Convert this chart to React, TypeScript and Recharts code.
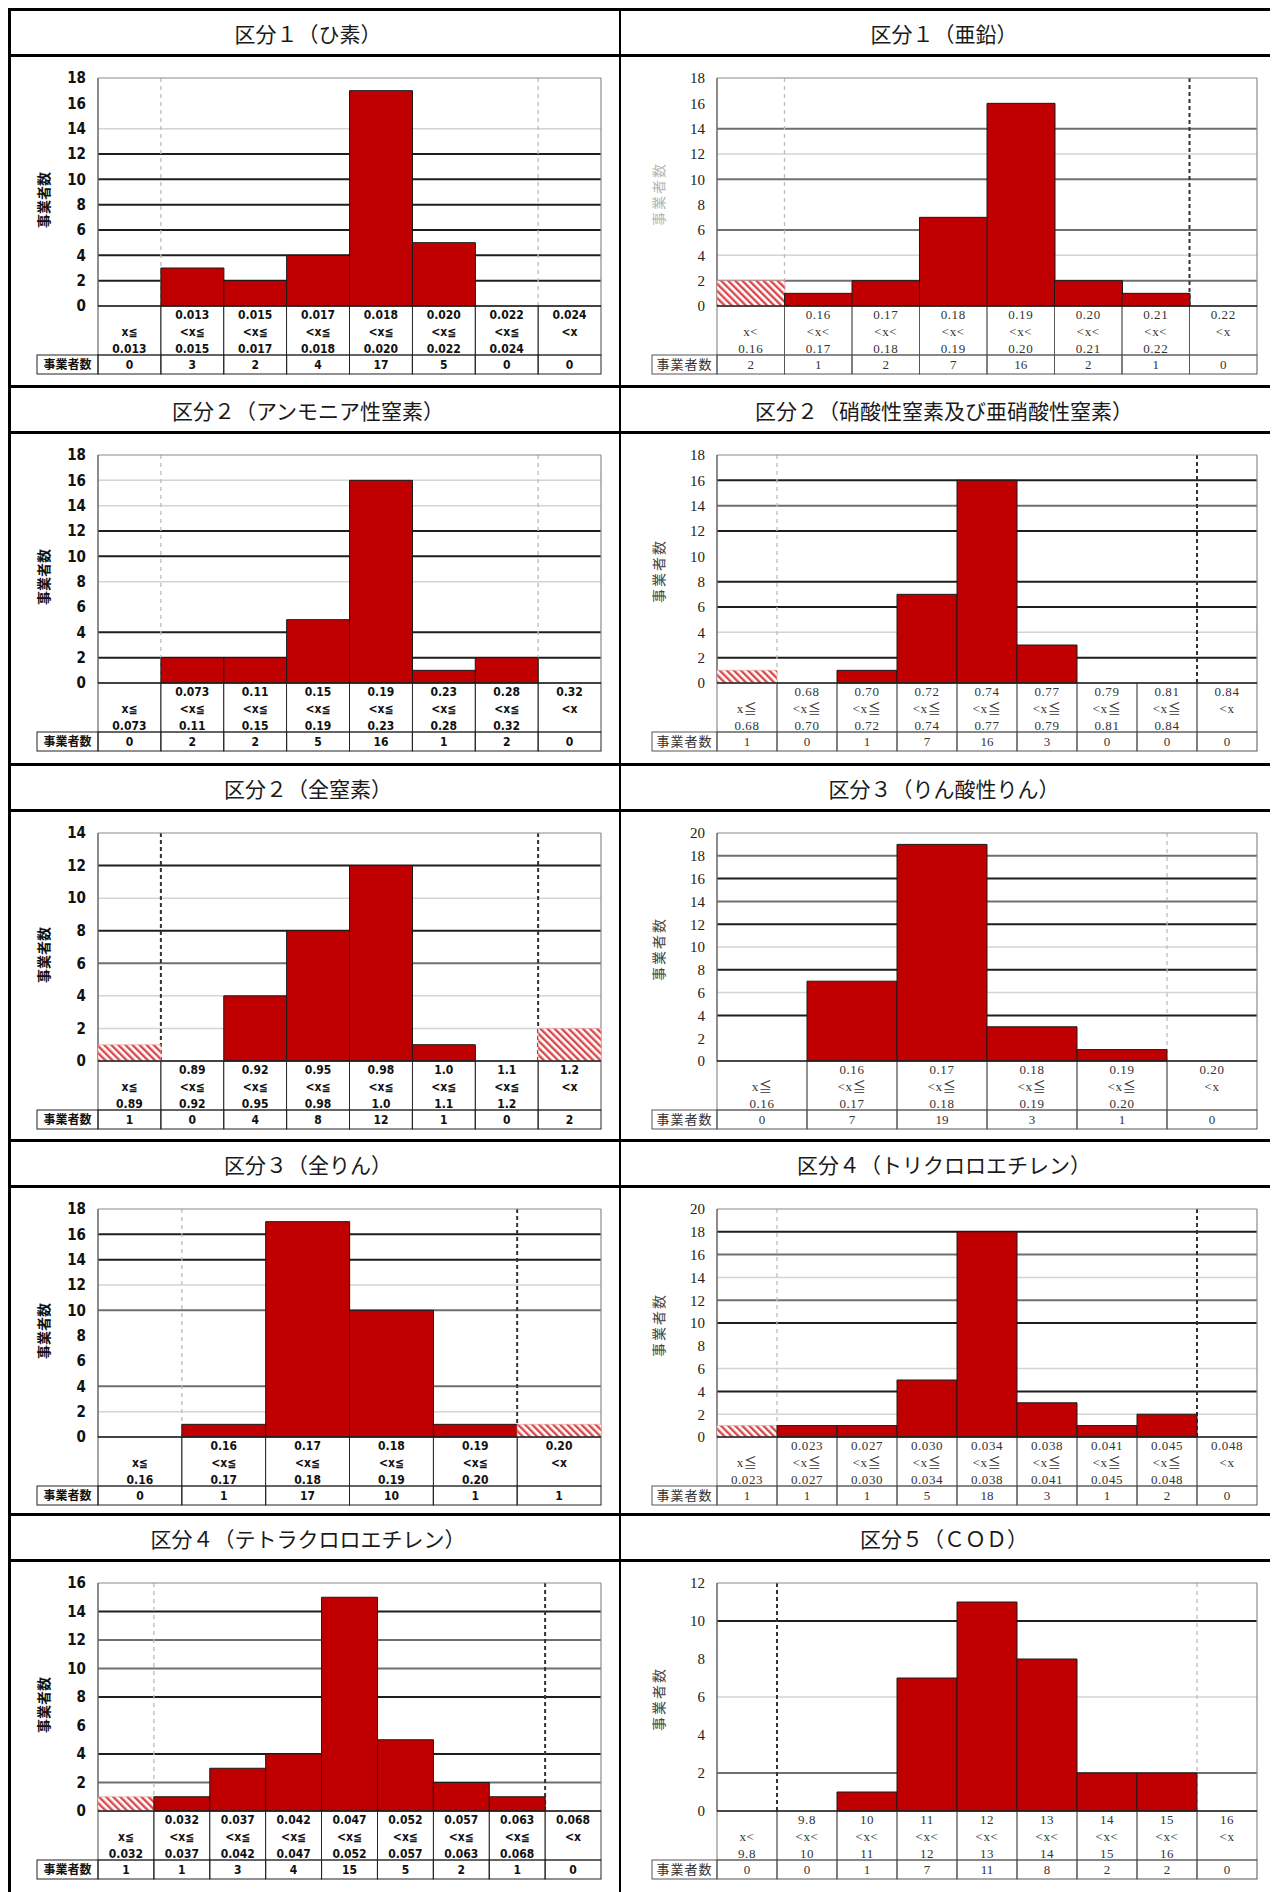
import React from "react";
import { BarChart, Bar, XAxis, YAxis, ReferenceLine, Cell } from "recharts";

// class bounds (upper limits of each bin) and counts of facilities per bin
const hisoBounds = ["0.013", "0.015", "0.017", "0.018", "0.020", "0.022", "0.024"];
const hisoCounts = [0, 3, 2, 4, 17, 5, 0, 0];

const aenBounds = ["0.16", "0.17", "0.18", "0.19", "0.20", "0.21", "0.22"];
const aenCounts = [2, 1, 2, 7, 16, 2, 1, 0];

const ammoniaBounds = ["0.073", "0.11", "0.15", "0.19", "0.23", "0.28", "0.32"];
const ammoniaCounts = [0, 2, 2, 5, 16, 1, 2, 0];

const nitrateBounds = ["0.68", "0.70", "0.72", "0.74", "0.77", "0.79", "0.81", "0.84"];
const nitrateCounts = [1, 0, 1, 7, 16, 3, 0, 0, 0];

const totalNBounds = ["0.89", "0.92", "0.95", "0.98", "1.0", "1.1", "1.2"];
const totalNCounts = [1, 0, 4, 8, 12, 1, 0, 2];

const phosphateBounds = ["0.16", "0.17", "0.18", "0.19", "0.20"];
const phosphateCounts = [0, 7, 19, 3, 1, 0];

const totalPBounds = ["0.16", "0.17", "0.18", "0.19", "0.20"];
const totalPCounts = [0, 1, 17, 10, 1, 1];

const tceBounds = ["0.023", "0.027", "0.030", "0.034", "0.038", "0.041", "0.045", "0.048"];
const tceCounts = [1, 1, 1, 5, 18, 3, 1, 2, 0];

const pceBounds = ["0.032", "0.037", "0.042", "0.047", "0.052", "0.057", "0.063", "0.068"];
const pceCounts = [1, 1, 3, 4, 15, 5, 2, 1, 0];

const codBounds = ["9.8", "10", "11", "12", "13", "14", "15", "16"];
const codCounts = [0, 0, 1, 7, 11, 8, 2, 2, 0];

const yTitle = "事業者数";

type Panel = {
  title: string;
  bounds: string[];
  counts: number[];
  yMax: number;
  op: string;
  hatched: number[];
  side: "L" | "R";
  dark: number[];
  mid: number[];
  light: number[];
  vDark: number[];
  vLight: number[];
  yColor: string;
};

const panels: Panel[] = [
  { title: "区分１（ひ素）", bounds: hisoBounds, counts: hisoCounts, yMax: 18, op: "≦", hatched: [], side: "L",
    dark: [2, 4, 6, 8, 10, 12], mid: [], light: [14], vDark: [], vLight: [1, 7], yColor: "#111" },
  { title: "区分１（亜鉛）", bounds: aenBounds, counts: aenCounts, yMax: 18, op: "<", hatched: [0], side: "R",
    dark: [], mid: [14, 10, 6, 2], light: [12, 4], vDark: [7], vLight: [1], yColor: "#b5b5b5" },
  { title: "区分２（アンモニア性窒素）", bounds: ammoniaBounds, counts: ammoniaCounts, yMax: 18, op: "≦", hatched: [], side: "L",
    dark: [12, 10, 4, 2], mid: [], light: [16, 14, 8], vDark: [], vLight: [1, 7], yColor: "#111" },
  { title: "区分２（硝酸性窒素及び亜硝酸性窒素）", bounds: nitrateBounds, counts: nitrateCounts, yMax: 18, op: "≦", hatched: [0], side: "R",
    dark: [16, 12, 8, 6, 2], mid: [14], light: [4], vDark: [8], vLight: [1], yColor: "#444" },
  { title: "区分２（全窒素）", bounds: totalNBounds, counts: totalNCounts, yMax: 14, op: "≦", hatched: [0, 7], side: "L",
    dark: [12, 8], mid: [6], light: [10, 4, 2], vDark: [1, 7], vLight: [], yColor: "#111" },
  { title: "区分３（りん酸性りん）", bounds: phosphateBounds, counts: phosphateCounts, yMax: 20, op: "≦", hatched: [], side: "R",
    dark: [16, 12, 8, 4], mid: [18, 14], light: [10, 6], vDark: [], vLight: [5], yColor: "#444" },
  { title: "区分３（全りん）", bounds: totalPBounds, counts: totalPCounts, yMax: 18, op: "≦", hatched: [5], side: "L",
    dark: [16, 14], mid: [10, 4], light: [12, 2], vDark: [5], vLight: [1], yColor: "#111" },
  { title: "区分４（トリクロロエチレン）", bounds: tceBounds, counts: tceCounts, yMax: 20, op: "≦", hatched: [0], side: "R",
    dark: [18, 10, 4], mid: [16, 12], light: [14, 6, 2], vDark: [8], vLight: [1], yColor: "#444" },
  { title: "区分４（テトラクロロエチレン）", bounds: pceBounds, counts: pceCounts, yMax: 16, op: "≦", hatched: [0], side: "L",
    dark: [14, 8, 4], mid: [12, 10, 2], light: [], vDark: [8], vLight: [1], yColor: "#111" },
  { title: "区分５（ＣＯＤ）", bounds: codBounds, counts: codCounts, yMax: 12, op: "<", hatched: [], side: "R",
    dark: [10], mid: [2], light: [6], vDark: [1], vLight: [8], yColor: "#444" },
];

function makeLabels(bounds: string[], op: string) {
  const n = bounds.length + 1;
  return Array.from({ length: n }, (_, i) => {
    if (i === 0) return ["", "x" + op, bounds[0]];
    if (i === n - 1) return [bounds[n - 2], "<x", ""];
    return [bounds[i - 1], "<x" + op, bounds[i]];
  });
}

const CHART_H = 321;
const TOP = 24;
const LABEL_H = 49;
const COUNT_H = 19;

function HistPanel({ p, id }: { p: Panel; id: string }) {
  const L = p.side === "L";
  const width = L ? 597 : 641;
  const yW = L ? 90 : 97;
  const cellLeft = L ? 29 : 32;
  const plotW = width - yW - 4;
  const n = p.counts.length;
  const bw = plotW / n;
  const data = p.counts.map((c, i) => ({ name: `c${i}`, count: c }));
  const labels = makeLabels(p.bounds, p.op);
  const ticks = Array.from({ length: p.yMax / 2 + 1 }, (_, i) => i * 2);
  const hid = `hatch-${id}`;
  const margin = { top: TOP, right: 4, left: 0, bottom: 1 };

  const numFont = L ? "'DejaVu Sans Condensed','DejaVu Sans','Noto Sans CJK JP',sans-serif" : "'Liberation Serif','Noto Sans CJK JP',serif";
  const numWeight = L ? 700 : 400;
  const textFill = L ? "#111" : "#333";
  const tableStroke = L ? "#222" : "#555";
  const tableSize = L ? 12 : 13;

  const labelTick = (t: any) => {
    const { x, y, index } = t;
    const lines = labels[index] || ["", "", ""];
    return (
      <g>
        <rect x={x - bw / 2} y={y} width={bw} height={LABEL_H} fill="none" stroke={tableStroke} strokeWidth={0.8} />
        {lines.map((s, k) => (
          <text key={k} x={x} y={y + 13 + k * 17} textAnchor="middle" fontSize={tableSize} fontFamily={numFont}
            fontWeight={numWeight} fill={textFill} letterSpacing={L ? 0 : 0.6}>{s}</text>
        ))}
      </g>
    );
  };

  const countTick = (t: any) => {
    const { x, y, index } = t;
    return (
      <g>
        {index === 0 && (
          <g>
            <rect x={cellLeft} y={y} width={x - bw / 2 - cellLeft} height={COUNT_H} fill="none" stroke={tableStroke} strokeWidth={1} />
            <text x={(cellLeft + x - bw / 2) / 2} y={y + 14} textAnchor="middle" fontSize={L ? 12 : 13}
              fontFamily="'Noto Sans CJK JP',sans-serif" fontWeight={L ? 700 : 400} fill={textFill}
              letterSpacing={L ? 0 : 1}>{yTitle}</text>
          </g>
        )}
        <rect x={x - bw / 2} y={y} width={bw} height={COUNT_H} fill="none" stroke={tableStroke} strokeWidth={1} />
        <text x={x} y={y + 14} textAnchor="middle" fontSize={tableSize} fontFamily={numFont} fontWeight={numWeight} fill={textFill}>
          {p.counts[index]}
        </text>
      </g>
    );
  };

  const YTitle = (lp: any) => {
    const vb = lp.viewBox || {};
    const cy = vb.height ? vb.y + vb.height / 2 + (L ? 8 : 2) : TOP + 120;
    const cx = L ? 35 : 38;
    return (
      <text x={cx} y={cy} transform={`rotate(-90 ${cx} ${cy})`} textAnchor="middle" dominantBaseline="central"
        fontSize={14} fontFamily="'Noto Sans CJK JP',sans-serif" fontWeight={L ? 700 : 400} fill={p.yColor}
        letterSpacing={L ? 0 : 2}>{yTitle}</text>
    );
  };

  // background layer: table, ticks, grid and dashed class limits
  const back = (
    <BarChart width={width} height={CHART_H} data={data} margin={margin} barCategoryGap={0} barGap={0}>
      <XAxis dataKey="name" height={LABEL_H} axisLine={false} tickLine={false} tickSize={0} tickMargin={0}
        interval={0} tick={labelTick} />
      <XAxis xAxisId="cnt" dataKey="name" height={COUNT_H} axisLine={false} tickLine={false} tickSize={0}
        tickMargin={0} interval={0} tick={countTick} />
      <YAxis width={yW} domain={[0, p.yMax]} ticks={ticks} interval={0} axisLine={false} tickLine={false}
        tickSize={0} tickMargin={12} allowDecimals={false}
        tick={{ fontSize: L ? 15 : 15, fontFamily: numFont, fontWeight: numWeight, fill: L ? "#111" : "#222" }}
        label={<YTitle />} />
      <Bar dataKey="count" fill="transparent" stroke="none" isAnimationActive={false} />
      {p.light.map((v) => <ReferenceLine key={`l${v}`} y={v} stroke="#d4d4d4" strokeWidth={1.5} />)}
      {p.mid.map((v) => <ReferenceLine key={`m${v}`} y={v} stroke="#6f6f6f" strokeWidth={2} />)}
      {p.dark.map((v) => <ReferenceLine key={`d${v}`} y={v} stroke="#1e1e1e" strokeWidth={2} />)}
      {p.vLight.map((i) => (
        <ReferenceLine key={`vl${i}`} x={data[i].name} position="start" stroke="#bdbdbd" strokeWidth={1.3} strokeDasharray="4 4" />
      ))}
      {p.vDark.map((i) => (
        <ReferenceLine key={`vd${i}`} x={data[i].name} position="start" stroke="#333" strokeWidth={2} strokeDasharray="4 3" />
      ))}
      <ReferenceLine y={p.yMax} stroke="#8a8a8a" strokeWidth={1.2} />
      <ReferenceLine x={data[0].name} position="start" stroke="#666" strokeWidth={1.5} />
      <ReferenceLine x={data[n - 1].name} position="end" stroke="#8a8a8a" strokeWidth={1.2} />
    </BarChart>
  );

  // front layer: the bars on the same scales, drawn over the grid
  const front = (
    <BarChart width={width} height={CHART_H} data={data} margin={margin} barCategoryGap={0} barGap={0}>
      <defs>
        <pattern id={hid} width={5} height={5} patternUnits="userSpaceOnUse" patternTransform="rotate(-45)">
          <rect width={5} height={5} fill="#fff" />
          <rect width={2.4} height={5} fill="#d9484b" />
        </pattern>
      </defs>
      <XAxis dataKey="name" height={LABEL_H} axisLine={false} tickLine={false} tick={false} />
      <XAxis xAxisId="cnt" dataKey="name" height={COUNT_H} axisLine={false} tickLine={false} tick={false} />
      <YAxis width={yW} domain={[0, p.yMax]} ticks={ticks} axisLine={false} tickLine={false} tick={false} />
      <Bar dataKey="count" isAnimationActive={false}>
        {data.map((d, i) => {
          const h = p.hatched.includes(i);
          return (
            <Cell key={d.name} fill={h ? `url(#${hid})` : "#c00000"} stroke={h ? "#e6a0a0" : "#1a1a1a"}
              strokeWidth={h ? 0.6 : 1} />
          );
        })}
      </Bar>
      <ReferenceLine y={0} stroke="#222" strokeWidth={1.5} />
    </BarChart>
  );

  return (
    <div style={{ position: "relative", width, height: CHART_H }}>
      <div style={{ position: "absolute", left: 0, top: 0 }}>{back}</div>
      <div style={{ position: "absolute", left: 0, top: 0 }}>{front}</div>
    </div>
  );
}

const TITLE_H = 46;
const TITLE_TOPS = [0, 377, 755, 1131, 1505];
const COL_X = [0, 612];
const TITLE_W = [600, 648];

export default function App() {
  return (
    <div style={{ position: "relative", width: 1290, height: 1884, background: "#fff", overflow: "hidden" }}>
      <style>{`html,body{overflow:hidden;background:#fff}`}</style>
      {TITLE_TOPS.map((t, r) => (
        <React.Fragment key={r}>
          <div style={{ position: "absolute", left: 0, top: t, width: 1290, height: 3, background: "#000" }} />
          <div style={{ position: "absolute", left: 0, top: t + TITLE_H, width: 1290, height: 3, background: "#000" }} />
        </React.Fragment>
      ))}
      <div style={{ position: "absolute", left: 0, top: 0, width: 3, height: 1884, background: "#000" }} />
      <div style={{ position: "absolute", left: 611, top: 0, width: 2, height: 1884, background: "#000" }} />
      {panels.map((p, i) => {
        const row = Math.floor(i / 2);
        const col = i % 2;
        return (
          <React.Fragment key={i}>
            <div style={{
              position: "absolute", left: COL_X[col], top: TITLE_TOPS[row] + 3, width: TITLE_W[col], height: TITLE_H - 3,
              display: "flex", alignItems: "center", justifyContent: "center",
              fontFamily: "'Noto Sans CJK JP',sans-serif", fontSize: 21, color: "#1a1a1a", fontWeight: 400,
            }}>
              {p.title}
            </div>
            <div style={{ position: "absolute", left: COL_X[col], top: TITLE_TOPS[row] + TITLE_H }}>
              <HistPanel p={p} id={`p${i}`} />
            </div>
          </React.Fragment>
        );
      })}
    </div>
  );
}
